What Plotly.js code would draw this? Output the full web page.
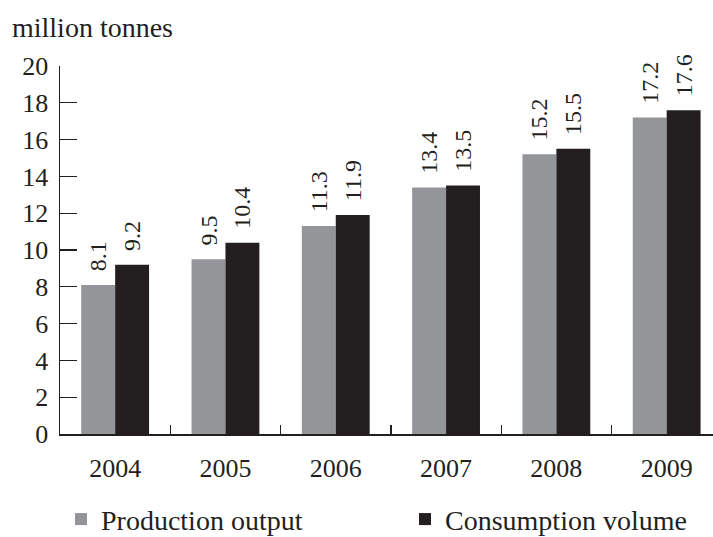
<!DOCTYPE html>
<html>
<head>
<meta charset="utf-8">
<script src="https://cdn.plot.ly/plotly-3.0.1.min.js"></script>
<style>html,body{margin:0;padding:0;background:#fff;}#chart{width:713px;height:537px;}</style>
</head>
<body>
<div id="chart"></div>
<script>
var years = ['2004', '2005', '2006', '2007', '2008', '2009'];
var production = [8.1, 9.5, 11.3, 13.4, 15.2, 17.2];
var consumption = [9.2, 10.4, 11.9, 13.5, 15.5, 17.6];
var seriesNames = ['Production output', 'Consumption volume'];
var yTicks = [0, 2, 4, 6, 8, 10, 12, 14, 16, 18, 20];
var unitLabel = 'million tonnes';

var FONT = '"Liberation Serif", "Times New Roman", serif';
var INK = '#231f20';

function barTrace(name, values, color, legendId) {
  return {
    type: 'bar',
    name: name,
    legend: legendId,
    x: years,
    y: values,
    marker: {color: color, line: {width: 0}},
    text: values.map(function (v) { return '\u00a0\u2009' + v.toFixed(1); }),
    textposition: 'outside',
    textangle: -90,
    constraintext: 'none',
    cliponaxis: false,
    textfont: {family: FONT, size: 24, color: INK},
    hoverinfo: 'x+y'
  };
}

var data = [
  barTrace(seriesNames[0], production, '#939598', 'legend'),
  barTrace(seriesNames[1], consumption, INK, 'legend2')
];

function legendAt(xPaper) {
  return {
    orientation: 'h',
    x: xPaper, xanchor: 'left',
    y: -0.232, yanchor: 'middle',
    font: {family: FONT, size: 28, color: INK},
    bgcolor: 'rgba(0,0,0,0)',
    itemclick: false,
    itemdoubleclick: false
  };
}

var layout = {
  width: 713,
  height: 537,
  margin: {l: 60, r: 0, t: 66, b: 103, pad: 0, autoexpand: false},
  paper_bgcolor: '#fff',
  plot_bgcolor: '#fff',
  font: {family: FONT, color: INK, size: 26},
  barmode: 'group',
  bargap: 0.385,
  bargroupgap: 0,
  showlegend: true,
  title: {
    text: unitLabel,
    font: {family: FONT, size: 28, color: INK},
    x: 12 / 713, xref: 'container', xanchor: 'left',
    y: 1 - 27 / 537, yref: 'container', yanchor: 'middle'
  },
  xaxis: {
    type: 'category',
    range: [-0.5, 5.42],
    tickson: 'boundaries',
    ticks: 'inside',
    ticklen: 9,
    tickwidth: 1.3,
    tickcolor: INK,
    showline: true,
    linecolor: INK,
    linewidth: 1.5,
    showgrid: false,
    zeroline: false,
    ticklabelstandoff: 10,
    tickfont: {family: FONT, size: 26, color: INK},
    fixedrange: true
  },
  yaxis: {
    range: [0, 20],
    tickvals: yTicks,
    ticktext: yTicks.map(String),
    ticks: 'inside',
    ticklen: 17,
    tickwidth: 1.3,
    tickcolor: INK,
    showline: true,
    linecolor: INK,
    linewidth: 1.5,
    showgrid: false,
    zeroline: false,
    ticklabelstandoff: 5,
    tickfont: {family: FONT, size: 26, color: INK},
    fixedrange: true
  },
  legend: legendAt(1 / 653),
  legend2: legendAt(345 / 653)
};

Plotly.newPlot('chart', data, layout, {displayModeBar: false, staticPlot: true});
</script>
</body>
</html>
